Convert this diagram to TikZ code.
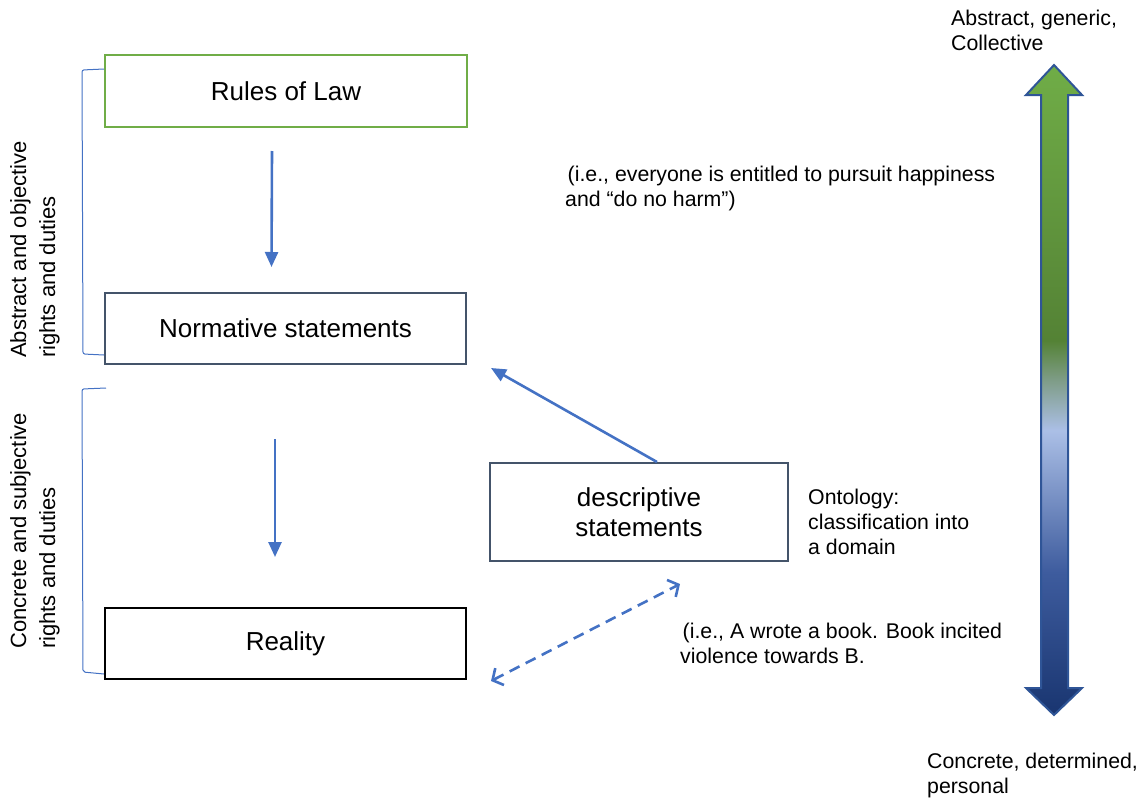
\documentclass[tikz,border=0pt]{standalone}
\usepackage{fontspec}
\setmainfont{Liberation Sans}
\usetikzlibrary{arrows.meta}

\definecolor{lawgreen}{HTML}{70AD47}
\definecolor{slate}{HTML}{44546A}
\definecolor{linkblue}{HTML}{4472C4}
\definecolor{rimblue}{HTML}{2F5597}
\definecolor{shTop}{HTML}{70AD47}
\definecolor{shMid}{HTML}{548235}
\definecolor{shGrey}{HTML}{7E9C86}
\definecolor{shLight}{HTML}{ABBFE6}
\definecolor{shLow}{HTML}{3E5C9E}
\definecolor{shBottom}{HTML}{193570}

% vertical scale: 25bp = bottom tip, 75bp = top tip
\pgfdeclareverticalshading{scaleshade}{100bp}{%
  color(0bp)=(shBottom); color(25bp)=(shBottom);
  color(36bp)=(shLow);
  color(46.9bp)=(shLight);
  color(50.8bp)=(shGrey);
  color(53.8bp)=(shMid);
  color(75bp)=(shTop); color(100bp)=(shTop)}

\tikzset{
  stmt/.style={draw, line width=2pt, inner sep=0pt, align=center,
    font=\fontsize{26}{30}\selectfont},
  arr/.style={draw=linkblue, line width=2.6pt,
    -{Triangle[length=15pt,width=13pt]}},
  darr/.style={draw=linkblue, line width=2.6pt, dash pattern=on 11pt off 7pt,
    {Straight Barb[length=8pt,width=19pt]}-{Straight Barb[length=8pt,width=19pt]}},
  brace/.style={draw=linkblue, line width=1pt, rounded corners=2pt},
  side/.style={rotate=90, align=left, inner sep=0pt,
    font=\fontsize{22}{29}\selectfont},
  note/.style={align=left, inner sep=0pt, anchor=north west,
    font=\fontsize{21.3}{25}\selectfont},
}

\begin{document}
\begin{tikzpicture}[x=1pt,y=-1pt]
\useasboundingbox (0,0) rectangle (1147,800);

% statement boxes
\node[stmt, draw=lawgreen, minimum width=362pt, minimum height=72pt] (law) at (286,91) {Rules of Law};
\node[stmt, draw=slate, minimum width=361pt, minimum height=71pt] (norm) at (285.5,328.5) {Normative statements};
\node[stmt, draw=black, minimum width=361pt, minimum height=71pt] (real) at (285.5,643.5) {Reality};
\node[stmt, draw=slate, minimum width=298pt, minimum height=98pt] (desc) at (639,512) {descriptive\\statements};

% connectors
\draw[arr] ([xshift=-14pt,yshift=-23pt]law.south) -- ([xshift=-14pt,yshift=25pt]norm.north);
\draw[arr] ([xshift=-10.5pt,yshift=-74pt]norm.south) -- ([xshift=-10.5pt,yshift=50pt]real.north);
\draw[arr] ([xshift=18pt]desc.north) -- ([xshift=24pt,yshift=-3pt]norm.south east);
\draw[darr] ([xshift=24pt,yshift=-1pt]real.south east) -- ([xshift=41pt,yshift=-22pt]desc.south);

% side brackets
\draw[brace] ([yshift=22pt]law.west) -- ++(-22,1) -- (83,354) -- ([yshift=10pt]norm.south west);
\draw[brace] ([xshift=2pt,yshift=-23pt]norm.south west) -- ++(-24,1) -- (83,672) -- ([yshift=6pt]real.south west);

% side labels
\node[side, anchor=west] (absLbl) at (35,358) {Abstract and objective\\rights and duties};
\node[side, anchor=west] (conLbl) at (35,649) {Concrete and subjective\\rights and duties};

% notes
\node[note] (ex1) at (565,166) {\hspace{2.5pt}(i.e., everyone is entitled to pursuit happiness\\and “do no harm”)};
\node[note] (onto) at (808,489) {Ontology:\\classification into\\a domain};
\node[note] (ex2) at (680,623) {\hspace{2.5pt}(i.e., A wrote a book. Book incited\\violence towards B.};
\node[note] (topLbl) at (951,10) {Abstract, generic,\\Collective};
\node[note] (botLbl) at (927,753) {Concrete, determined,\\personal};

% abstraction scale
\shadedraw[shading=scaleshade, draw=rimblue, line width=2pt, line join=miter]
  (1054,65) -- (1082,95) -- (1068,95) -- (1068,688) -- (1082,688) -- (1054,715)
  -- (1026,688) -- (1041,688) -- (1041,95) -- (1026,95) -- cycle;
\end{tikzpicture}
\end{document}
